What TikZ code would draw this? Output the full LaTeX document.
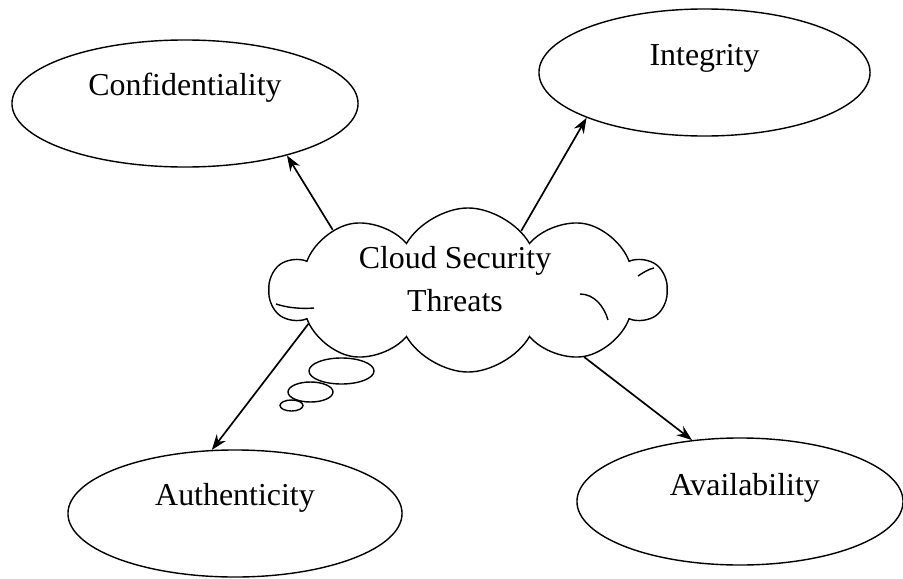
\documentclass[tikz,border=0pt]{standalone}
\usepackage{fontspec}
\setmainfont{Liberation Serif}
\usetikzlibrary{shapes.geometric, shapes.symbols, arrows.meta}

\tikzset{
  goal/.style={draw, ellipse, line width=1pt, inner sep=0pt,
    minimum height=3.175cm},
  threat/.style={draw, cloud, cloud puffs=10, cloud puff arc=120,
    aspect=2.4, fill=white, line width=1pt,
    minimum width=9.9cm, minimum height=4.1cm},
  bubble/.style={draw, ellipse, line width=1pt, inner sep=0pt},
  fold/.style={line width=1pt},
  link/.style={line width=1.2pt, -{Stealth[length=11pt,width=8pt]}}
}

\begin{document}
\begin{tikzpicture}[x=0.025cm, y=-0.025cm,
  font=\fontsize{22.7}{31}\selectfont]
	
	\useasboundingbox (0,0) rectangle (903,579);
	
	% Burbujas
	\node[bubble, minimum width=1.625cm, minimum height=0.65cm] (B1) at (341.5,371) {};
	\node[bubble, minimum width=1.125cm, minimum height=0.5cm] (B2) at (310.5,392) {};
	\node[bubble, minimum width=0.575cm, minimum height=0.275cm] (B3) at (291.5,405.5) {};
	
	% Nube central
	\node[threat] (T) at (468,290) {};
	\begin{scope}[shift={(T.center)}]
		\draw[fold] (-192,14) .. controls (-180,18) and (-166,19) .. (-154,18);
		\draw[fold] (112,4) .. controls (126,4) and (136,16) .. (140,30);
		\draw[fold] (170,-14) .. controls (176,-18) and (181,-21) .. (186,-22);
	\end{scope}
	\node[align=center] (Ttext) at (455,279) {Cloud Security\\Threats};
	
	% Objetivos
	\node[goal, minimum width=8.65cm] (C) at (185,103.5) {};
	\node (Ctext) at ([yshift=0.39cm]C.center) {Confidentiality};
	
	\node[goal, minimum width=8.275cm] (I) at (704.5,72.5) {};
	\node (Itext) at ([yshift=0.36cm]I.center) {Integrity};
	
	\node[goal, minimum width=8.35cm] (A) at (235,513.5) {};
	\node (Atext) at ([yshift=0.39cm]A.center) {Authenticity};
	
	\node[goal, minimum width=8.15cm] (V) at (740,501.5) {};
	\node (Vtext) at ([xshift=0.12cm,yshift=0.34cm]V.center) {Availability};
	
	% Flechas
	\draw[link] (T.156.8) -- (C.-27);
	\draw[link] (T.48) -- (I.201.5);
	\draw[link] (T.192.2) -- (A.110.4);
	\draw[link] (T.-30.1) -- (V.128.2);
	
\end{tikzpicture}
\end{document}
